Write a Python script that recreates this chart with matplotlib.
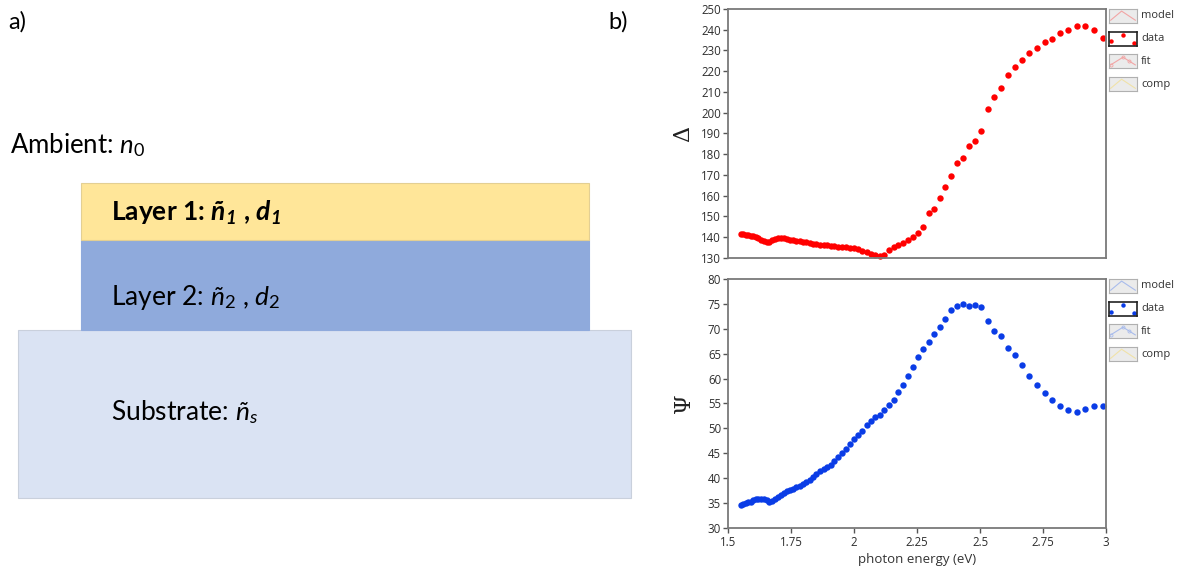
import matplotlib
matplotlib.use("Agg")
import matplotlib.pyplot as plt
from matplotlib.patches import Rectangle

# Photon energies of the measured spectrum (eV)
energy = [1.550, 1.560, 1.570, 1.580, 1.590, 1.600, 1.610, 1.621, 1.632, 1.642,
          1.653, 1.664, 1.676, 1.687, 1.699, 1.710, 1.722, 1.734, 1.746, 1.759,
          1.771, 1.784, 1.797, 1.810, 1.824, 1.837, 1.851, 1.865, 1.879, 1.893,
          1.908, 1.922, 1.938, 1.953, 1.968, 1.984, 2.000, 2.016, 2.033, 2.050,
          2.067, 2.084, 2.102, 2.120, 2.138, 2.157, 2.175, 2.195, 2.214, 2.234,
          2.255, 2.275, 2.296, 2.318, 2.340, 2.362, 2.385, 2.408, 2.431, 2.455,
          2.480, 2.505, 2.531, 2.557, 2.583, 2.611, 2.638, 2.667, 2.696, 2.725,
          2.756, 2.787, 2.818, 2.851, 2.884, 2.918, 2.952, 2.988]

# Ellipsometric angle Delta (deg)
delta = [141.6, 141.5, 141.3, 141.1, 140.8, 140.4, 140.0, 139.4, 138.8, 138.1,
         137.5, 137.8, 138.7, 139.3, 139.6, 139.6, 139.4, 139.2, 138.9, 138.6,
         138.3, 138.0, 137.7, 137.5, 137.2, 136.9, 136.7, 136.5, 136.3, 136.1,
         135.9, 135.7, 135.5, 135.3, 135.2, 134.9, 134.6, 134.1, 133.5, 132.8,
         132.0, 131.3, 130.8, 131.6, 134.0, 135.1, 136.1, 137.3, 138.6, 140.0,
         142.2, 144.7, 151.9, 153.6, 159.0, 164.3, 169.6, 175.7, 178.1, 183.9,
         186.6, 191.4, 201.6, 207.7, 212.0, 218.1, 222.2, 225.4, 228.8, 231.2,
         234.1, 235.4, 238.3, 239.9, 241.8, 241.8, 239.9, 236.0]

# Ellipsometric angle Psi (deg)
psi = [34.7, 34.9, 35.1, 35.2, 35.3, 35.6, 35.8, 35.8, 35.9, 35.9,
       35.6, 35.2, 35.5, 35.8, 36.2, 36.6, 37.0, 37.4, 37.7, 37.9,
       38.2, 38.5, 38.8, 39.2, 39.7, 40.2, 40.8, 41.4, 41.8, 42.3,
       42.7, 43.5, 44.2, 45.0, 45.9, 46.8, 47.9, 48.7, 49.5, 50.6,
       51.5, 52.2, 52.7, 53.6, 54.6, 55.7, 57.4, 58.7, 60.5, 62.4,
       64.3, 65.9, 67.3, 68.9, 70.3, 71.9, 73.7, 74.5, 74.9, 74.5,
       74.7, 74.3, 71.6, 69.5, 68.5, 66.1, 64.7, 62.8, 60.5, 58.7,
       57.1, 55.8, 54.4, 53.6, 53.2, 53.8, 54.4, 54.4]

x_ticks = [1.5, 1.75, 2.0, 2.25, 2.5, 2.75, 3.0]
x_tick_labels = ["1.5", "1.75", "2", "2.25", "2.5", "2.75", "3"]
delta_ticks = list(range(130, 251, 10))
psi_ticks = list(range(30, 81, 5))
legend_names = ["model", "data", "fit", "comp"]

W, H = 1182, 573
fig = plt.figure(figsize=(W / 100, H / 100), dpi=100)
fig.patch.set_facecolor("white")

plt.rcParams["mathtext.fontset"] = "custom"
plt.rcParams["mathtext.rm"] = "Lato"
plt.rcParams["mathtext.it"] = "Lato:italic"
plt.rcParams["mathtext.bf"] = "Lato:bold"
plt.rcParams["mathtext.bfit"] = "Lato:bold:italic"

# ---------------- a) layer stack sketch ----------------
sk = fig.add_axes([0, 0, 1, 1])
sk.set_xlim(0, W)
sk.set_ylim(H, 0)
sk.axis("off")
sk.set_zorder(-1)

sk.add_patch(Rectangle((18, 330), 613, 168, facecolor="#DAE3F3", edgecolor="#C9D0DC", lw=0.8))
sk.add_patch(Rectangle((81, 240), 508, 90, facecolor="#8FAADC", edgecolor="#8FAADC", lw=0.8))
sk.add_patch(Rectangle((81, 183), 508, 57, facecolor="#FFE699", edgecolor="#E3CF93", lw=0.8))

tf = dict(family="Lato", color="black", va="center", ha="left")
sk.text(8, 22, "a)", fontsize=17, **tf)
sk.text(608, 22, "b)", fontsize=17, **tf)
sk.text(10, 145, r"Ambient: $\mathit{n_0}$", fontsize=18.5, **tf)
sk.text(111, 213, r"Layer 1: $\mathbfit{ñ_1}$ , $\mathbfit{d_1}$", fontsize=19,
        fontweight="bold", **tf)
sk.text(111, 298, r"Layer 2: $\mathit{ñ_2}$ , $\mathit{d_2}$", fontsize=19, **tf)
sk.text(111, 412, r"Substrate: $\mathit{ñ_s}$", fontsize=19, **tf)

# ---------------- b) ellipsometry spectra ----------------
def frac(x0, y0, x1, y1):
    return [x0 / W, 1 - y1 / H, (x1 - x0) / W, (y1 - y0) / H]

tick_font = dict(family="Open Sans", size=8.3, color="#2e2e2e")


def style_axes(ax, yticks, ylim, show_x):
    ax.set_xlim(1.5, 3.0)
    ax.set_ylim(*ylim)
    ax.set_yticks(yticks)
    ax.set_yticklabels([str(v) for v in yticks], fontdict=tick_font)
    for s in ax.spines.values():
        s.set_color("#7a7a7a")
        s.set_linewidth(1.3)
    ax.tick_params(axis="y", direction="out", length=3.5, width=1, color="#555555", pad=1.5)
    if show_x:
        ax.set_xticks(x_ticks)
        ax.set_xticklabels(x_tick_labels, fontdict=tick_font)
        ax.tick_params(axis="x", direction="out", length=3.5, width=1, color="#555555", pad=2)
    else:
        ax.set_xticks([])


ax_d = fig.add_axes(frac(728, 9, 1106, 258))
ax_d.plot(energy, delta, "o", ms=4.6, color="#FF0000", mec="none", clip_on=False)
style_axes(ax_d, delta_ticks, (130, 250), False)
ax_d.set_ylabel("Δ", fontsize=16, family="DejaVu Serif", color="#222222", labelpad=5)

ax_p = fig.add_axes(frac(728, 279, 1106, 528))
ax_p.plot(energy, psi, "o", ms=4.6, color="#0A3CE6", mec="none", clip_on=False)
style_axes(ax_p, psi_ticks, (30, 80), True)
ax_p.set_ylabel("Ψ", fontsize=16, family="DejaVu Serif", color="#222222", labelpad=9)
ax_p.set_xlabel("photon energy (eV)", fontsize=9.5, family="Open Sans", color="#333333",
                labelpad=3)


# Plot-type legend swatches to the right of each graph
def swatches(top, line_col):
    zig_x = [0.06, 0.45, 0.94]
    zig_y = [0.2, 0.85, 0.2]
    for i, name in enumerate(legend_names):
        y0 = top + i * 22.7
        sw = fig.add_axes(frac(1109, y0, 1137, y0 + 14))
        sw.set_xlim(0, 1)
        sw.set_ylim(0, 1)
        sw.set_xticks([])
        sw.set_yticks([])
        if name == "data":
            sw.set_facecolor("white")
            for s in sw.spines.values():
                s.set_color("#222222")
                s.set_linewidth(1.2)
            sw.plot([0.08, 0.5, 0.88], [0.3, 0.78, 0.22], "o", ms=3.2,
                    color=line_col["dot"], mec="none", clip_on=False)
        else:
            sw.set_facecolor("#EBEBEB")
            for s in sw.spines.values():
                s.set_color("#B0B0B0")
                s.set_linewidth(0.8)
            c = "#F0E2A8" if name == "comp" else line_col["line"]
            if name == "fit":
                sw.plot([0.06, 0.3, 0.5, 0.7, 0.94], [0.25, 0.55, 0.8, 0.55, 0.25], "-",
                        color=c, lw=0.8)
                sw.plot([0.06, 0.5, 0.7], [0.25, 0.8, 0.55], "o", ms=2.2, mfc="none",
                        mec=c, mew=0.6)
            else:
                sw.plot(zig_x, zig_y, "-", color=c, lw=0.8)
        fig.text(1141 / W, 1 - (y0 + 7) / H, name, fontsize=8, family="Open Sans",
                 color="#333333", va="center", ha="left")


swatches(9, {"line": "#F2A5A5", "dot": "#FF0000"})
swatches(279, {"line": "#A9BCEB", "dot": "#0A3CE6"})

fig.savefig("out.png", dpi=100, facecolor="white")
